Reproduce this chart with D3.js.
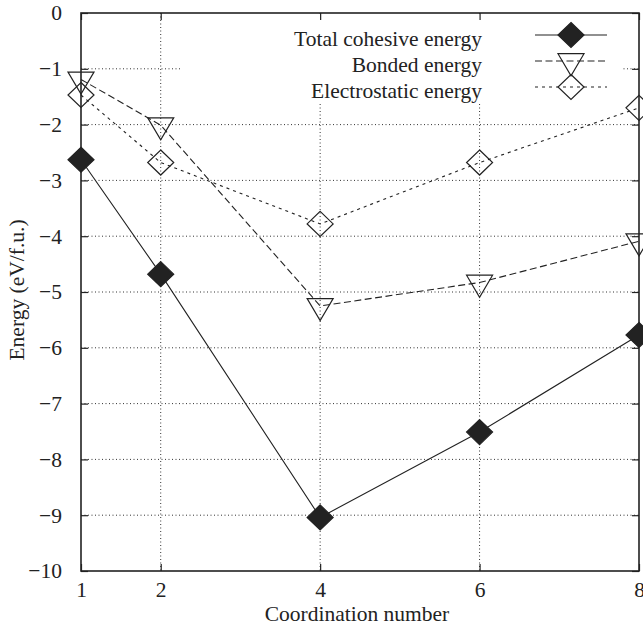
<!DOCTYPE html>
<html><head><meta charset="utf-8">
<script src="https://cdn.jsdelivr.net/npm/d3@7"></script>
<style>html,body{margin:0;padding:0;background:#fff}svg{display:block}
svg text{font-family:"Liberation Serif","Tinos","Times New Roman","Nimbus Roman","DejaVu Serif",serif;}</style>
</head><body>
<script>
const coordination = [1, 2, 4, 6, 8];
const totalEnergy = [-2.63, -4.68, -9.04, -7.51, -5.77];
const bondedEnergy = [-1.19, -2.01, -5.25, -4.83, -4.09];
const electrostaticEnergy = [-1.47, -2.68, -3.78, -2.68, -1.70];
const xTicks = [1, 2, 4, 6, 8];
const yTicks = [0, -1, -2, -3, -4, -5, -6, -7, -8, -9, -10];
const seriesNames = ["Total cohesive energy", "Bonded energy", "Electrostatic energy"];

const W = 643, H = 631;
const m = {left: 81, top: 13, right: 4, bottom: 60};
const iw = W - m.left - m.right, ih = H - m.top - m.bottom;
const FS = "21.5px";

const svg = d3.select("body").append("svg").attr("width", W).attr("height", H);
const g = svg.append("g").attr("transform", `translate(${m.left},${m.top})`);

const x = d3.scaleLinear().domain([1, 8]).range([0, iw]);
const y = d3.scaleLinear().domain([-10, 0]).range([ih, 0]);

// grid
const grid = g.append("g").attr("stroke", "#333").attr("stroke-width", 1).attr("stroke-dasharray", "1,2.5");
grid.selectAll("line.v").data([2, 4, 6]).join("line")
  .attr("x1", d => x(d)).attr("x2", d => x(d)).attr("y1", 0).attr("y2", ih);
grid.selectAll("line.h").data(yTicks.filter(d => d !== 0 && d !== -10)).join("line")
  .attr("x1", 0).attr("x2", iw).attr("y1", d => y(d)).attr("y2", d => y(d));

// legend background (clears grid)
const lg = {x0: 101, x1: 542, y0: 1, y1: 90};
g.append("rect").attr("x", lg.x0).attr("y", lg.y0).attr("width", lg.x1 - lg.x0).attr("height", lg.y1 - lg.y0).attr("fill", "#fff");

// axes with inward ticks
const fmt = d => d === 0 ? "0" : (d < 0 ? "\u2212" + Math.abs(d) : String(d));
const ax = g.append("g").attr("transform", `translate(0,${ih})`)
  .call(d3.axisBottom(x).tickValues(xTicks).tickFormat(fmt).tickSizeInner(-7).tickSizeOuter(0).tickPadding(11));
const ay = g.append("g")
  .call(d3.axisLeft(y).tickValues(yTicks).tickFormat(fmt).tickSizeInner(-7).tickSizeOuter(0).tickPadding(19));
const axTop = g.append("g")
  .call(d3.axisTop(x).tickValues(xTicks).tickFormat("").tickSizeInner(-7).tickSizeOuter(0));
const ayR = g.append("g").attr("transform", `translate(${iw},0)`)
  .call(d3.axisRight(y).tickValues(yTicks).tickFormat("").tickSizeInner(-7).tickSizeOuter(0));
[ax, ay, axTop, ayR].forEach(a => {
  a.attr("font-family", null).attr("font-size", null);
  a.select(".domain").remove();
  a.selectAll("line").attr("stroke", "#222").attr("stroke-width", 1.2);
  a.selectAll("text").style("font-size", FS).attr("fill", "#222");
});

// frame
g.append("rect").attr("x", 0).attr("y", 0).attr("width", iw).attr("height", ih)
  .attr("fill", "none").attr("stroke", "#222").attr("stroke-width", 1.6);

// series
const series = [
  {vals: totalEnergy, dash: null, marker: "fdiamond"},
  {vals: bondedEnergy, dash: "7,3.5", marker: "triangle"},
  {vals: electrostaticEnergy, dash: "3,4", marker: "diamond"}
];
const line = d3.line().x(d => x(d[0])).y(d => y(d[1]));

function drawMarker(sel, type, cx, cy) {
  if (type === "triangle") {
    sel.append("path").attr("d", `M${cx - 13},${cy - 7.3}L${cx + 13},${cy - 7.3}L${cx},${cy + 14.7}Z`)
      .attr("fill", "none").attr("stroke", "#222").attr("stroke-width", 1.2);
  } else {
    sel.append("path").attr("d", `M${cx},${cy - 12.5}L${cx + 13},${cy}L${cx},${cy + 12.5}L${cx - 13},${cy}Z`)
      .attr("fill", type === "fdiamond" ? "#222" : "none").attr("stroke", "#222").attr("stroke-width", 1.2);
  }
}

series.forEach(s => {
  const pts = coordination.map((c, i) => [c, s.vals[i]]);
  g.append("path").datum(pts).attr("d", line).attr("fill", "none")
    .attr("stroke", "#222").attr("stroke-width", 1.1)
    .attr("stroke-dasharray", s.dash);
  const mg = g.append("g");
  pts.forEach(p => drawMarker(mg, s.marker, x(p[0]), y(p[1])));
});

// legend
const rowsY = [22, 48, 74];
const legend = g.append("g");
series.forEach((s, i) => {
  legend.append("text").attr("x", 401).attr("y", rowsY[i] + 11)
    .attr("text-anchor", "end").style("font-size", FS).attr("fill", "#222")
    .text(seriesNames[i]);
  legend.append("line").attr("x1", 454).attr("x2", 526).attr("y1", rowsY[i]).attr("y2", rowsY[i])
    .attr("stroke", "#222").attr("stroke-width", 1.1).attr("stroke-dasharray", s.dash);
  drawMarker(legend, s.marker, 490, rowsY[i]);
});

// axis titles
svg.append("text").attr("x", m.left + iw / 2 - 3).attr("y", 621).attr("text-anchor", "middle")
  .style("font-size", FS).attr("fill", "#222").text("Coordination number");
svg.append("text").attr("transform", `translate(24,290) rotate(-90)`).attr("text-anchor", "middle")
  .style("font-size", FS).attr("fill", "#222").text("Energy (eV/f.u.)");
</script>
</body></html>
